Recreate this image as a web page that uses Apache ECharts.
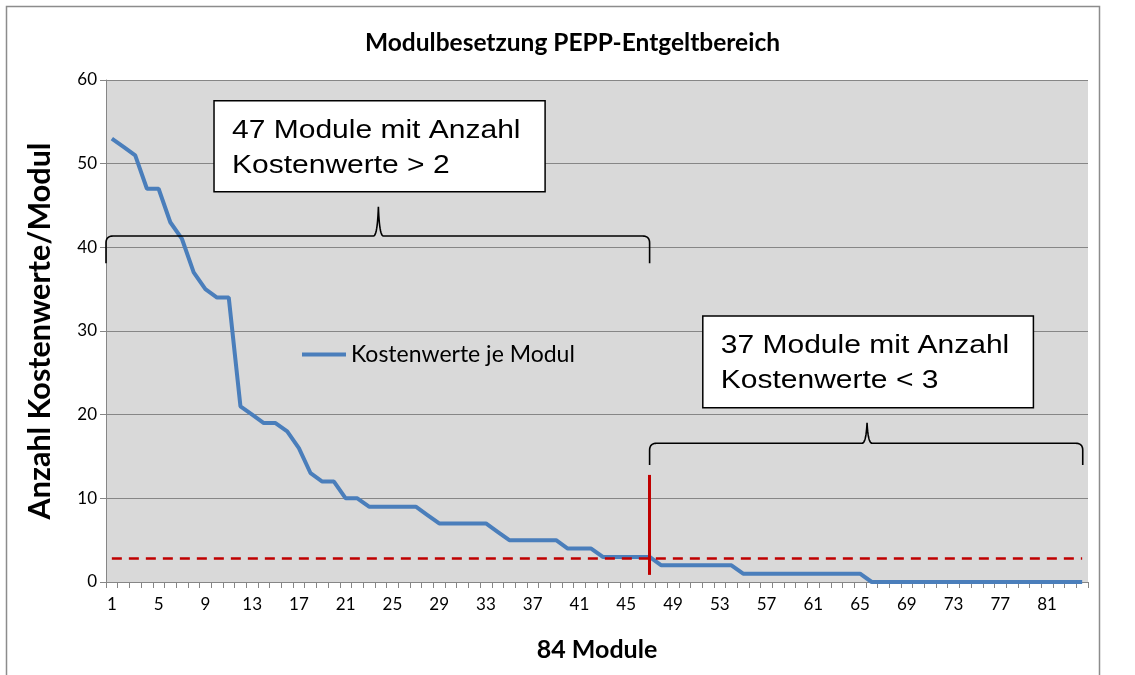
<!DOCTYPE html>
<html>
<head>
<meta charset="utf-8">
<script src="https://cdn.jsdelivr.net/npm/echarts@6/dist/echarts.min.js"></script>
<style>
html,body{margin:0;padding:0;background:#fff;}
#chart{width:1135px;height:675px;}
</style>
</head>
<body>
<div id="chart"></div>
<script>
// ---------- data ----------
const chartTitle = 'Modulbesetzung PEPP-Entgeltbereich';
const seriesName = 'Kostenwerte je Modul';
const xAxisName = '84 Module';
const yAxisName = 'Anzahl Kostenwerte/Modul';
const categories = Array.from({length: 84}, (_, i) => String(i + 1));
const kostenwerte = [
  53, 52, 51, 47, 47, 43, 41, 37, 35, 34, 34,
  21, 20, 19, 19, 18, 16, 13, 12, 12, 10, 10,
  9, 9, 9, 9, 9, 8,
  7, 7, 7, 7, 7, 6,
  5, 5, 5, 5, 5, 4, 4, 4,
  3, 3, 3, 3, 3,
  2, 2, 2, 2, 2, 2, 2,
  1, 1, 1, 1, 1, 1, 1, 1, 1, 1, 1,
  0, 0, 0, 0, 0, 0, 0, 0, 0, 0, 0, 0, 0, 0, 0, 0, 0, 0, 0
];
const yTicks = [0, 10, 20, 30, 40, 50, 60];
const thresholdValue = 2.85;          // dashed red reference line
const splitCategory = '47';           // red vertical separator
const splitRange = [0.85, 12.8];
const boxTexts = [
  ['47 Module mit Anzahl', 'Kostenwerte > 2'],
  ['37 Module mit Anzahl', 'Kostenwerte < 3']
];

// ---------- annotation geometry (in data units: category index, value) ----------
const braceDefs = [
  {from: -0.5, to: 46, peak: 22.8, base: 38.1, bar: 41.35, top: 44.85},
  {from: 46, to: 83.05, peak: 64.6, base: 13.98, bar: 16.58, top: 19.04}
];
const boxDefs = [
  {from: 8.74, to: 37.06, top: 57.53, bottom: 46.65},
  {from: 50.55, to: 78.83, top: 31.79, bottom: 20.83}
];

const chart = echarts.init(document.getElementById('chart'), null, {renderer: 'canvas'});
const calibri = 'Lato, "Noto Sans", sans-serif';

chart.setOption({
  animation: false,
  backgroundColor: '#ffffff',
  title: {
    text: chartTitle,
    left: 365,
    top: 31,
    padding: 0,
    textStyle: {fontFamily: calibri, fontWeight: 'bold', fontSize: 24.5, color: '#000'}
  },
  legend: {
    left: 302, top: 343, padding: 0,
    icon: 'rect', itemWidth: 44, itemHeight: 4, itemGap: 5,
    textStyle: {fontFamily: calibri, fontSize: 23, color: '#000', padding: [0, 0, 0, 0]},
    data: [seriesName]
  },
  grid: {left: 106, right: 47, top: 80, bottom: 93, show: true, backgroundColor: '#d9d9d9', borderWidth: 0},
  xAxis: {
    type: 'category',
    data: categories,
    boundaryGap: true,
    name: xAxisName,
    nameLocation: 'middle',
    nameGap: 55,
    nameTextStyle: {fontFamily: calibri, fontWeight: 'bold', fontSize: 25, color: '#000'},
    axisLine: {lineStyle: {color: '#868686', width: 1}},
    axisTick: {show: true, interval: 0, length: 6, inside: false, lineStyle: {color: '#868686'}},
    axisLabel: {interval: 3, fontFamily: calibri, fontSize: 17, color: '#000', margin: 14},
    splitLine: {show: false}
  },
  yAxis: {
    type: 'value',
    min: yTicks[0], max: yTicks[yTicks.length - 1], interval: 10,
    name: yAxisName,
    nameLocation: 'middle',
    nameRotate: 90,
    nameGap: 50,
    nameTextStyle: {fontFamily: calibri, fontWeight: 'bold', fontSize: 30.5, color: '#000'},
    axisLine: {show: true, lineStyle: {color: '#868686', width: 1}},
    axisTick: {show: true, length: 6, lineStyle: {color: '#868686'}},
    axisLabel: {fontFamily: calibri, fontSize: 17, color: '#000', margin: 9},
    splitLine: {show: true, lineStyle: {color: '#868686', width: 1}}
  },
  series: [{
    name: seriesName,
    type: 'line',
    data: kostenwerte,
    showSymbol: false,
    symbol: 'none',
    lineStyle: {color: '#4a7ebb', width: 4},
    itemStyle: {color: '#4a7ebb'},
    markLine: {
      silent: true,
      symbol: ['none', 'none'],
      label: {show: false},
      data: [
        [{coord: [0, thresholdValue], lineStyle: {color: '#c00000', width: 2.5, type: [10, 7]}},
         {coord: [83, thresholdValue]}],
        [{coord: [splitCategory, splitRange[0]], lineStyle: {color: '#c00000', width: 3, type: 'solid'}},
         {coord: [splitCategory, splitRange[1]]}]
      ]
    }
  }]
});

// ---------- annotations anchored to data coordinates ----------
function px(idx) {
  const p0 = chart.convertToPixel({xAxisIndex: 0}, 0);
  const p1 = chart.convertToPixel({xAxisIndex: 0}, 1);
  return p0 + (p1 - p0) * idx;
}
function py(v) { return chart.convertToPixel({yAxisIndex: 0}, v); }

function quad(pts, a, c, b, n) {
  for (let i = 1; i <= n; i++) {
    const t = i / n, u = 1 - t;
    pts.push([u * u * a[0] + 2 * u * t * c[0] + t * t * b[0], u * u * a[1] + 2 * u * t * c[1] + t * t * b[1]]);
  }
}
function bracePoints(b) {
  const x0 = px(b.from), x1 = px(b.to), xm = px(b.peak);
  const yb = py(b.base), yh = py(b.bar), yt = py(b.top);
  const r = 7;
  const pts = [[x0, yb], [x0, yh + r]];
  quad(pts, [x0, yh + r], [x0, yh], [x0 + r, yh], 10);
  pts.push([xm - 5, yh]);
  quad(pts, [xm - 5, yh], [xm - 1, yh], [xm, yt], 12);
  quad(pts, [xm, yt], [xm + 1, yh], [xm + 5, yh], 12);
  pts.push([x1 - r, yh]);
  quad(pts, [x1 - r, yh], [x1, yh], [x1, yh + r], 10);
  pts.push([x1, yb]);
  return pts;
}

const graphics = [];
// outer chart border
graphics.push({type: 'rect', shape: {x: 6.5, y: 6.5, width: 1093, height: 720},
  style: {fill: 'none', stroke: '#8c8c8c', lineWidth: 1.5}, z: 0, silent: true});
braceDefs.forEach(b => {
  graphics.push({type: 'polyline', shape: {points: bracePoints(b)},
    style: {fill: 'none', stroke: '#000', lineWidth: 1.6}, z: 50, silent: true});
});
boxDefs.forEach((b, i) => {
  const x0 = px(b.from), x1 = px(b.to), y0 = py(b.top), y1 = py(b.bottom);
  graphics.push({type: 'rect', shape: {x: x0, y: y0, width: x1 - x0, height: y1 - y0},
    style: {fill: '#fff', stroke: '#000', lineWidth: 1.5}, z: 60, silent: true});
  const sx = 1.2;
  graphics.push({type: 'group', x: x0 + 18, y: y0, scaleX: sx, z: 61, silent: true, children:
    boxTexts[i].map((t, k) => ({type: 'text', x: 0, y: 30 + k * 35.5,
      style: {text: t, fill: '#000', font: '25px "Liberation Sans", Arial, sans-serif',
        textAlign: 'left', textVerticalAlign: 'middle'}, z: 61}))
  });
});
chart.setOption({graphic: graphics});
</script>
</body>
</html>
